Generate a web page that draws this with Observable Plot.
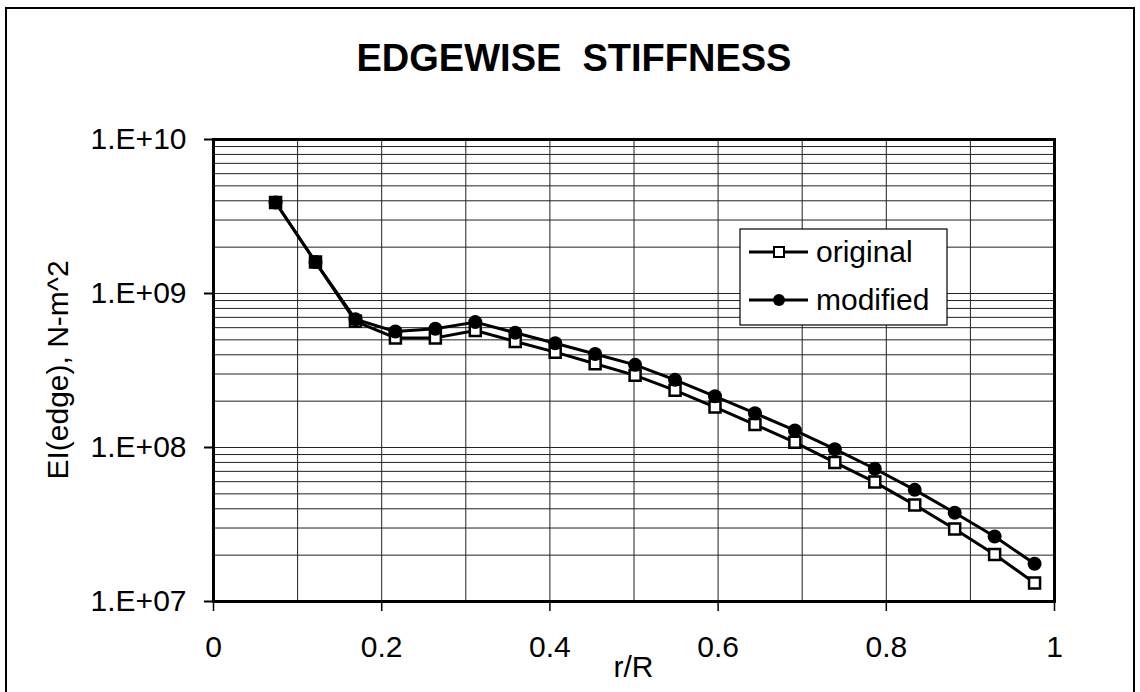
<!DOCTYPE html>
<html>
<head>
<meta charset="utf-8">
<script src="https://cdn.jsdelivr.net/npm/d3@7"></script>
<script src="https://cdn.jsdelivr.net/npm/@observablehq/plot@0.6"></script>
<style>
  html, body { margin: 0; padding: 0; background: #fff; }
  #wrap { position: relative; width: 1140px; height: 692px; overflow: hidden; font-family: "Liberation Sans", Arial, sans-serif; }
</style>
</head>
<body>
<div id="wrap"></div>
<script>
// ---- data ----
const rR = [0.0738, 0.1213, 0.1688, 0.2163, 0.2638, 0.3113, 0.3588, 0.4063, 0.4538, 0.5013,
            0.5488, 0.5963, 0.6438, 0.6913, 0.7388, 0.7863, 0.8338, 0.8813, 0.9288, 0.9763];
const original = [3.9e9, 1.6e9, 6.6e8, 5.15e8, 5.15e8, 5.75e8, 4.88e8, 4.16e8, 3.5e8, 2.94e8,
                  2.35e8, 1.83e8, 1.41e8, 1.08e8, 8.0e7, 5.96e7, 4.24e7, 2.96e7, 2.02e7, 1.32e7];
const modified = [3.9e9, 1.6e9, 6.8e8, 5.66e8, 5.9e8, 6.52e8, 5.56e8, 4.75e8, 4.05e8, 3.44e8,
                  2.75e8, 2.15e8, 1.67e8, 1.29e8, 9.75e7, 7.28e7, 5.31e7, 3.77e7, 2.64e7, 1.76e7];
const seriesNames = ["original", "modified"];
const xTicks = [0, 0.2, 0.4, 0.6, 0.8, 1];
const xTickLabels = ["0", "0.2", "0.4", "0.6", "0.8", "1"];
const yTicks = [1e7, 1e8, 1e9, 1e10];
const yTickLabels = ["1.E+07", "1.E+08", "1.E+09", "1.E+10"];
const xGrid = [0, 0.1, 0.2, 0.3, 0.4, 0.5, 0.6, 0.7, 0.8, 0.9, 1];
const yGrid = [1e7,2e7,3e7,4e7,5e7,6e7,7e7,8e7,9e7,1e8,2e8,3e8,4e8,5e8,6e8,7e8,8e8,9e8,1e9,2e9,3e9,4e9,5e9,6e9,7e9,8e9,9e9,1e10];
const titleText = "EDGEWISE  STIFFNESS";
const xLabel = "r/R";
const yLabel = "EI(edge), N-m^2";

const dataO = rR.map((x, i) => ({x, y: original[i]}));
const dataM = rR.map((x, i) => ({x, y: modified[i]}));

const W = 1140, H = 692;
const mL = 213, mR = 86, mT = 139, mB = 91;
const FONT = "Liberation Sans, Arial, sans-serif";

const chart = Plot.plot({
  width: W, height: H,
  marginLeft: mL, marginRight: mR, marginTop: mT, marginBottom: mB,
  style: {fontFamily: FONT, fontSize: "30px", color: "#000", background: "transparent", overflow: "visible"},
  x: {domain: [0, 1]},
  y: {type: "log", domain: [1e7, 1e10]},
  marks: [
    Plot.ruleX(xGrid, {stroke: "#222", strokeWidth: 1, strokeOpacity: 1}),
    Plot.ruleY(yGrid, {stroke: "#222", strokeWidth: 1, strokeOpacity: 1}),
    Plot.axisX({ticks: xTicks, tickFormat: d => xTickLabels[xTicks.indexOf(d)], tickSize: 10, tickPadding: 24, stroke: "#000", strokeWidth: 1.5, label: null, fontSize: 30}),
    Plot.axisY({ticks: yTicks, tickFormat: d => yTickLabels[yTicks.indexOf(d)], tickSize: 9, tickPadding: 18, stroke: "#000", strokeWidth: 2, label: null, fontSize: 30}),
    Plot.frame({stroke: "#000", strokeWidth: 3}),
    Plot.line(dataO, {x: "x", y: "y", stroke: "#000", strokeWidth: 3}),
    Plot.dot(dataO, {x: "x", y: "y", symbol: "square", r: 6.2, fill: "#fff", stroke: "#000", strokeWidth: 2.5}),
    Plot.line(dataM, {x: "x", y: "y", stroke: "#000", strokeWidth: 3}),
    Plot.dot(dataM, {x: "x", y: "y", symbol: "circle", r: 7, fill: "#000", stroke: "#000", strokeWidth: 0})
  ]
});
chart.style.position = "absolute";
chart.style.left = "0px";
chart.style.top = "0px";
document.getElementById("wrap").appendChild(chart);

// overlay for title, axis labels, legend, outer border
const svg = d3.select(chart);
const g = svg.append("g").attr("font-family", FONT).attr("fill", "#000");

g.append("rect").attr("x", 6).attr("y", 8).attr("width", 1128).attr("height", 720)
  .attr("fill", "none").attr("stroke", "#000").attr("stroke-width", 2);

g.append("text").attr("x", 574).attr("y", 71).attr("text-anchor", "middle")
  .attr("font-size", 38).attr("font-weight", "bold").text(titleText);

g.append("text").attr("x", mL + (W - mL - mR) / 2).attr("y", 677).attr("text-anchor", "middle")
  .attr("font-size", 30).text(xLabel);

g.append("text").attr("transform", `translate(68,${mT + (H - mT - mB) / 2}) rotate(-90)`)
  .attr("text-anchor", "middle").attr("font-size", 30).text(yLabel);

// legend
const lx = 740, ly = 229, lw = 207, lh = 96;
const leg = g.append("g");
leg.append("rect").attr("x", lx).attr("y", ly).attr("width", lw).attr("height", lh)
  .attr("fill", "#fff").attr("stroke", "#000").attr("stroke-width", 1.2);
seriesNames.forEach((name, i) => {
  const cy = ly + 23 + i * 48;
  leg.append("line").attr("x1", lx + 9).attr("x2", lx + 68).attr("y1", cy).attr("y2", cy)
    .attr("stroke", "#000").attr("stroke-width", 3);
  if (i === 0) {
    leg.append("rect").attr("x", lx + 34).attr("y", cy - 5).attr("width", 10).attr("height", 10)
      .attr("fill", "#fff").attr("stroke", "#000").attr("stroke-width", 2);
  } else {
    leg.append("circle").attr("cx", lx + 39).attr("cy", cy).attr("r", 6).attr("fill", "#000");
  }
  leg.append("text").attr("x", lx + 76).attr("y", cy + 10).attr("text-anchor", "start")
    .attr("font-size", 30).text(name);
});
</script>
</body>
</html>
